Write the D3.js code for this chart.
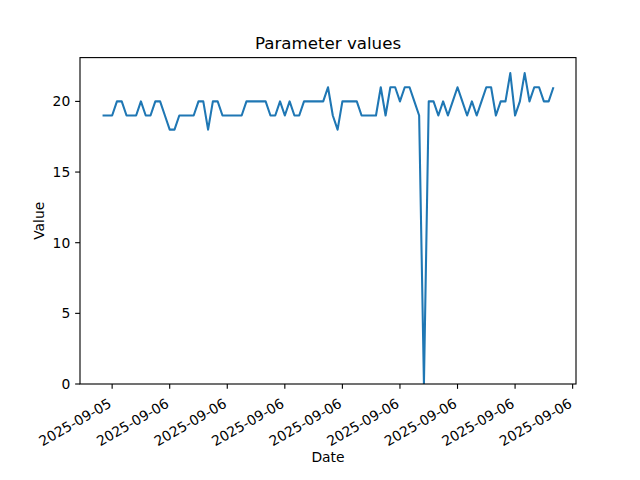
<!DOCTYPE html>
<html>
<head>
<meta charset="utf-8">
<script src="https://cdn.jsdelivr.net/npm/d3@7"></script>
<style>
  html, body { margin: 0; padding: 0; background: #fff; }
  svg { display: block; }
  text { font-family: "DejaVu Sans", sans-serif; fill: #000; }
</style>
</head>
<body>
<svg id="chart" width="640" height="480"></svg>
<script>
// ---- data ----
const times = [
  "2025-09-05 21:40","2025-09-05 21:50","2025-09-05 22:00","2025-09-05 22:10","2025-09-05 22:20","2025-09-05 22:30","2025-09-05 22:40","2025-09-05 22:50",
  "2025-09-05 23:00","2025-09-05 23:10","2025-09-05 23:20","2025-09-05 23:30","2025-09-05 23:40","2025-09-05 23:50",
  "2025-09-06 00:00","2025-09-06 00:10","2025-09-06 00:20","2025-09-06 00:30","2025-09-06 00:40","2025-09-06 00:50",
  "2025-09-06 01:00","2025-09-06 01:10","2025-09-06 01:20","2025-09-06 01:30","2025-09-06 01:40","2025-09-06 01:50",
  "2025-09-06 02:00","2025-09-06 02:10","2025-09-06 02:20","2025-09-06 02:30","2025-09-06 02:40","2025-09-06 02:50",
  "2025-09-06 03:00","2025-09-06 03:10","2025-09-06 03:20","2025-09-06 03:30","2025-09-06 03:40","2025-09-06 03:50",
  "2025-09-06 04:00","2025-09-06 04:10","2025-09-06 04:20","2025-09-06 04:30","2025-09-06 04:40","2025-09-06 04:50",
  "2025-09-06 05:00","2025-09-06 05:10","2025-09-06 05:20","2025-09-06 05:30","2025-09-06 05:40","2025-09-06 05:50",
  "2025-09-06 06:00","2025-09-06 06:10","2025-09-06 06:20","2025-09-06 06:30","2025-09-06 06:40","2025-09-06 06:50",
  "2025-09-06 07:00","2025-09-06 07:10","2025-09-06 07:20","2025-09-06 07:30","2025-09-06 07:40","2025-09-06 07:50",
  "2025-09-06 08:00","2025-09-06 08:10","2025-09-06 08:20","2025-09-06 08:30","2025-09-06 08:40","2025-09-06 08:50",
  "2025-09-06 09:00","2025-09-06 09:10","2025-09-06 09:20","2025-09-06 09:30","2025-09-06 09:40","2025-09-06 09:50",
  "2025-09-06 10:00","2025-09-06 10:10","2025-09-06 10:20","2025-09-06 10:30","2025-09-06 10:40","2025-09-06 10:50",
  "2025-09-06 11:00","2025-09-06 11:10","2025-09-06 11:20","2025-09-06 11:30","2025-09-06 11:40","2025-09-06 11:50",
  "2025-09-06 12:00","2025-09-06 12:10","2025-09-06 12:20","2025-09-06 12:30","2025-09-06 12:40","2025-09-06 12:50",
  "2025-09-06 13:00","2025-09-06 13:10","2025-09-06 13:20"
];
const values = [
  19,19,19,20,20,19,19,19,20,19,
  19,20,20,19,18,18,19,19,19,19,
  20,20,18,20,20,19,19,19,19,19,
  20,20,20,20,20,19,19,20,19,20,
  19,19,20,20,20,20,20,21,19,18,
  20,20,20,20,19,19,19,19,21,19,
  21,21,20,21,21,20,19,0,20,20,
  19,20,19,20,21,20,19,20,19,20,
  21,21,19,20,20,22,19,20,22,20,
  21,21,20,20,21
];
const xTickTimes = [
  "2025-09-05 22:00","2025-09-06 00:00","2025-09-06 02:00","2025-09-06 04:00","2025-09-06 06:00",
  "2025-09-06 08:00","2025-09-06 10:00","2025-09-06 12:00","2025-09-06 14:00"
];
const xTickLabels = [
  "2025-09-05","2025-09-06","2025-09-06","2025-09-06","2025-09-06",
  "2025-09-06","2025-09-06","2025-09-06","2025-09-06"
];
const yTicks = [0, 5, 10, 15, 20];
const titleText = "Parameter values";
const xLabelText = "Date";
const yLabelText = "Value";

(function () {
  const parse = d3.timeParse("%Y-%m-%d %H:%M");
  const data = times.map((t, i) => ({ t: parse(t), v: values[i] }));
  const L = 80, R = 576, T = 57.6, B = 384;
  const fs = "13.89px";

  const tExt = d3.extent(data, d => d.t);
  const span = tExt[1] - tExt[0];
  const x = d3.scaleTime()
    .domain([new Date(+tExt[0] - 0.05 * span), new Date(+tExt[1] + 0.05 * span)])
    .range([L, R]);
  const vMax = d3.max(values), vMin = d3.min(values);
  const y = d3.scaleLinear()
    .domain([0, vMax + 0.05 * (vMax - vMin)])
    .range([B, T]);

  const svg = d3.select("#chart");
  svg.append("rect").attr("width", 640).attr("height", 480).attr("fill", "#fff");

  svg.append("defs").append("clipPath").attr("id", "clip")
    .append("rect").attr("x", L).attr("y", T)
    .attr("width", R - L).attr("height", B - T);

  const line = d3.line().x(d => x(d.t)).y(d => y(d.v));
  svg.append("path")
    .datum(data)
    .attr("clip-path", "url(#clip)")
    .attr("fill", "none")
    .attr("stroke", "#1f77b4")
    .attr("stroke-width", 2.08)
    .attr("stroke-linejoin", "round")
    .attr("stroke-linecap", "butt")
    .attr("d", line);

  svg.append("rect")
    .attr("x", L).attr("y", T)
    .attr("width", R - L).attr("height", B - T)
    .attr("fill", "none").attr("stroke", "#000").attr("stroke-width", 1.11);

  const tickLen = 4.86;
  const xTicks = xTickTimes.map((t, i) => ({ t: parse(t), label: xTickLabels[i] }));
  const xg = svg.append("g");
  xTicks.forEach(d => {
    const px = x(d.t);
    xg.append("line")
      .attr("x1", px).attr("x2", px)
      .attr("y1", B).attr("y2", B + tickLen)
      .attr("stroke", "#000").attr("stroke-width", 1.11);
    xg.append("text")
      .attr("transform", `translate(${px + 0.3},${B + 22.3}) rotate(-30)`)
      .attr("text-anchor", "end")
      .attr("font-size", fs)
      .text(d.label);
  });

  const yg = svg.append("g");
  yTicks.forEach(v => {
    const py = y(v);
    yg.append("line")
      .attr("x1", L - tickLen).attr("x2", L)
      .attr("y1", py).attr("y2", py)
      .attr("stroke", "#000").attr("stroke-width", 1.11);
    yg.append("text")
      .attr("x", L - tickLen - 4.86)
      .attr("y", py + 5)
      .attr("text-anchor", "end")
      .attr("font-size", fs)
      .text(v);
  });

  svg.append("text")
    .attr("x", (L + R) / 2).attr("y", 49)
    .attr("text-anchor", "middle")
    .attr("font-size", "16.67px")
    .text(titleText);

  svg.append("text")
    .attr("x", (L + R) / 2).attr("y", 462)
    .attr("text-anchor", "middle")
    .attr("font-size", fs)
    .text(xLabelText);

  svg.append("text")
    .attr("transform", `translate(43.8,${(T + B) / 2}) rotate(-90)`)
    .attr("text-anchor", "middle")
    .attr("font-size", fs)
    .text(yLabelText);
})();
</script>
</body>
</html>
